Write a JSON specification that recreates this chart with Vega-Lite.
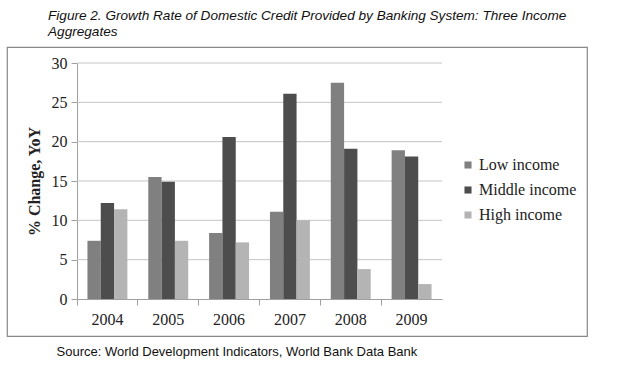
{
  "$schema": "https://vega.github.io/schema/vega-lite/v6.json",
  "width": 580,
  "height": 289,
  "autosize": {"type": "none"},
  "padding": {"left": 7, "top": 47, "right": 53, "bottom": 29},
  "background": "white",
  "title": {
    "text": ["Figure 2. Growth Rate of Domestic Credit Provided by Banking System: Three Income", "Aggregates"],
    "anchor": "start",
    "dx": 41,
    "offset": 8,
    "font": "Liberation Sans",
    "fontSize": 13.6,
    "fontWeight": "normal",
    "fontStyle": "italic",
    "color": "#111",
    "lineHeight": 16
  },
  "datasets": {
    "bars": [
      {"year": "2004", "group": "Low income", "value": 7.4},
      {"year": "2004", "group": "Middle income", "value": 12.2},
      {"year": "2004", "group": "High income", "value": 11.4},
      {"year": "2005", "group": "Low income", "value": 15.5},
      {"year": "2005", "group": "Middle income", "value": 14.9},
      {"year": "2005", "group": "High income", "value": 7.4},
      {"year": "2006", "group": "Low income", "value": 8.4},
      {"year": "2006", "group": "Middle income", "value": 20.6},
      {"year": "2006", "group": "High income", "value": 7.2},
      {"year": "2007", "group": "Low income", "value": 11.1},
      {"year": "2007", "group": "Middle income", "value": 26.1},
      {"year": "2007", "group": "High income", "value": 10.0},
      {"year": "2008", "group": "Low income", "value": 27.5},
      {"year": "2008", "group": "Middle income", "value": 19.1},
      {"year": "2008", "group": "High income", "value": 3.8},
      {"year": "2009", "group": "Low income", "value": 18.9},
      {"year": "2009", "group": "Middle income", "value": 18.1},
      {"year": "2009", "group": "High income", "value": 1.9}
    ],
    "grid": [
      {"v": 5}, {"v": 10}, {"v": 15}, {"v": 20}, {"v": 25}, {"v": 30}
    ]
  },
  "layer": [
    {
      "data": {"name": "grid"},
      "mark": {"type": "rule", "color": "#c4c4c4", "strokeWidth": 1},
      "encoding": {
        "y": {"field": "v", "type": "quantitative"},
        "x": {"datum": "2004", "type": "nominal", "bandPosition": 0},
        "x2": {"datum": "2009", "bandPosition": 1}
      }
    },
    {
      "data": {"name": "bars"},
      "mark": {"type": "bar"},
      "encoding": {
        "x": {
          "field": "year",
          "type": "nominal"
        },
        "xOffset": {
          "field": "group",
          "type": "nominal",
          "sort": ["Low income", "Middle income", "High income"],
          "scale": {"paddingInner": 0, "paddingOuter": 0.785}
        },
        "y": {
          "field": "value",
          "type": "quantitative"
        },
        "color": {
          "field": "group",
          "type": "nominal",
          "sort": ["Low income", "Middle income", "High income"],
          "scale": {"domain": ["Low income", "Middle income", "High income"], "range": ["#808080", "#4d4d4d", "#b4b4b4"]},
          "legend": {
            "title": null,
            "orient": "none",
            "legendX": 453,
            "legendY": 110,
            "symbolType": "square",
            "symbolSize": 50,
            "symbolStrokeWidth": 0,
            "labelFont": "Liberation Serif",
            "labelFontSize": 16,
            "labelColor": "#222",
            "labelOffset": 3,
            "rowPadding": 9
          }
        }
      }
    }
  ],
  "encoding": {
    "x": {
      "type": "nominal",
      "scale": {"range": [70, 435], "paddingInner": 0, "paddingOuter": 0},
      "axis": {
        "title": "Source: World Development Indicators, World Bank Data Bank",
        "titleFont": "Liberation Sans",
        "titleFontSize": 13,
        "titleFontWeight": "normal",
        "titleColor": "#111",
        "titleAnchor": "start",
        "titleX": 49,
        "titleY": 46,
        "offset": -37,
        "labelAngle": 0,
        "labelFont": "Liberation Serif",
        "labelFontSize": 16,
        "labelColor": "#222",
        "labelPadding": 6,
        "bandPosition": 0,
        "tickSize": 6,
        "tickColor": "#a0a0a0",
        "domainColor": "#a0a0a0",
        "grid": false
      }
    },
    "y": {
      "type": "quantitative",
      "scale": {"domain": [0, 30], "range": [252, 16], "nice": false, "zero": true},
      "axis": {
        "title": "% Change, YoY",
        "titleFont": "Liberation Serif",
        "titleFontSize": 16,
        "titleFontWeight": "bold",
        "titleColor": "#222",
        "titlePadding": 9,
        "offset": -70,
        "values": [0, 5, 10, 15, 20, 25, 30],
        "labelFont": "Liberation Serif",
        "labelFontSize": 16,
        "labelColor": "#222",
        "labelPadding": 4,
        "tickSize": 6,
        "tickColor": "#a0a0a0",
        "domainColor": "#a0a0a0",
        "grid": false
      }
    }
  },
  "config": {
    "view": {"stroke": "#888888", "strokeWidth": 1.2}
  }
}
